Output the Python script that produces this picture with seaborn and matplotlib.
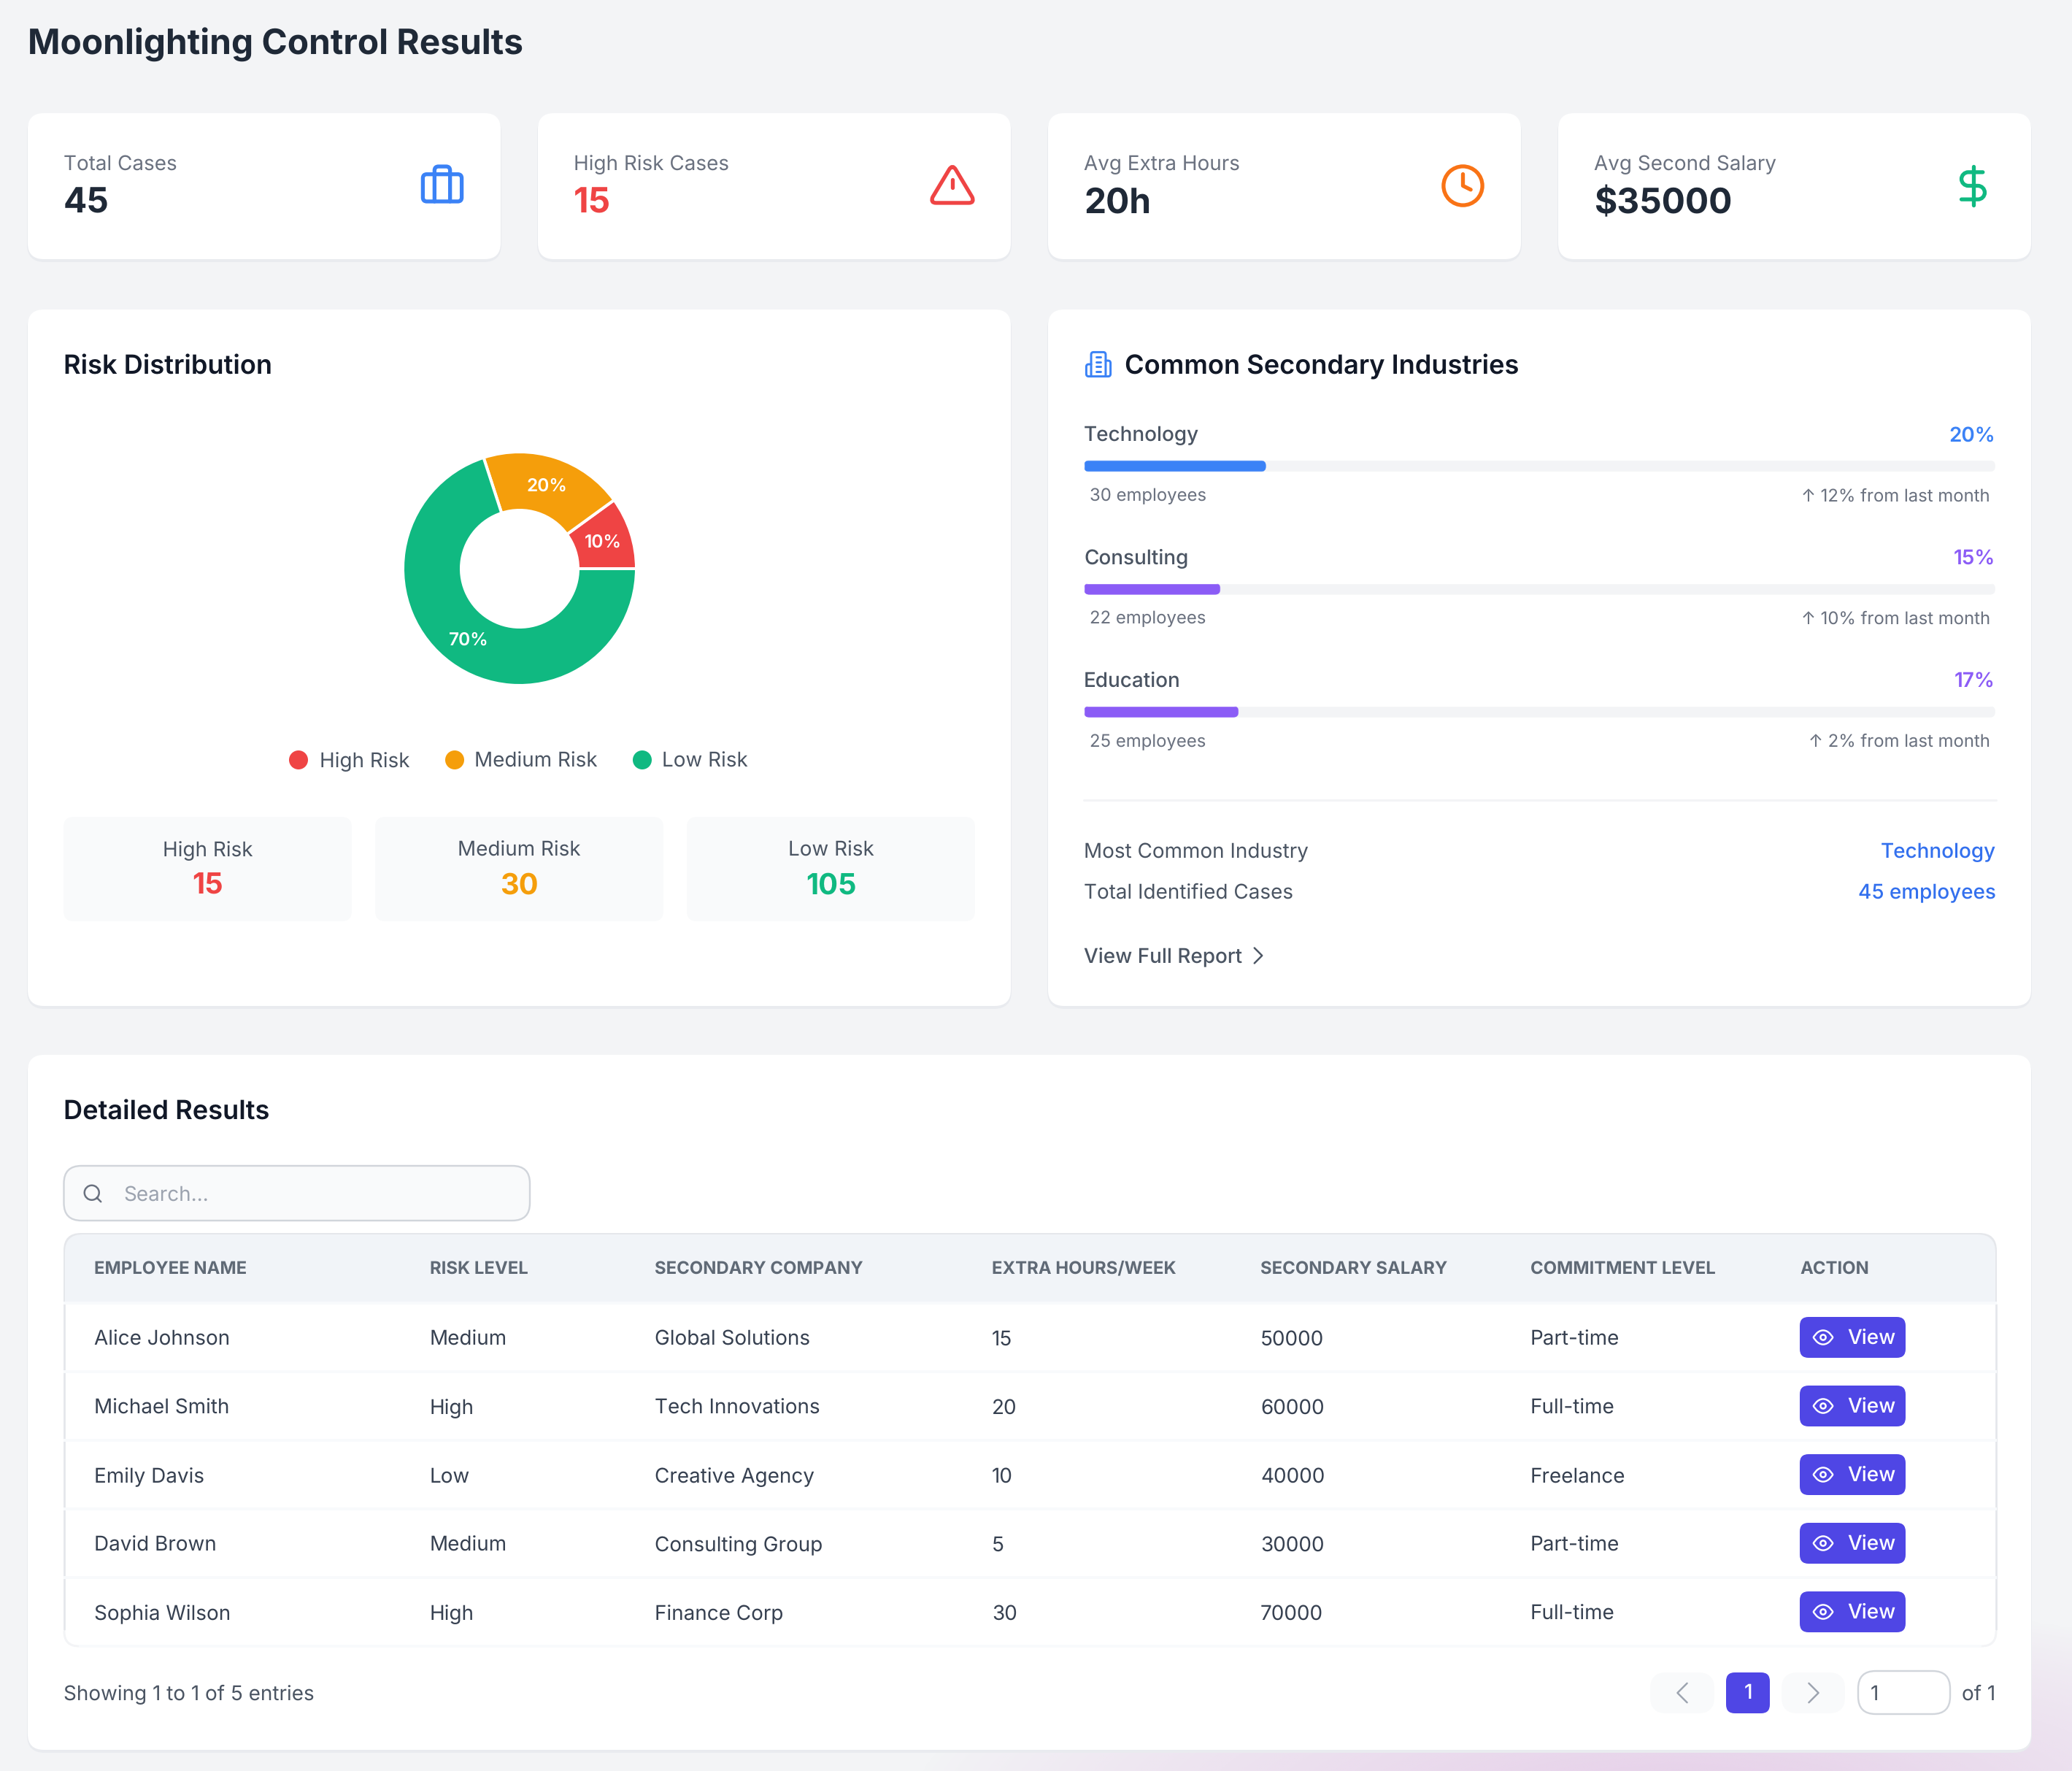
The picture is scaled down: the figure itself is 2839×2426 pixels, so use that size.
import re
import numpy as np
import matplotlib
matplotlib.use('Agg')
import matplotlib.pyplot as plt
from matplotlib.patches import FancyBboxPatch, Circle
from matplotlib.path import Path
from matplotlib.patches import PathPatch
from matplotlib.transforms import IdentityTransform
import seaborn as sns

W, H = 2839, 2426
CSS = 1.8106 * 0.72  # css px to pt at dpi 100
BODY, SMALL, HEAD, BIG = 15.4, 13.2, 20, 26.4

# stat cards
card_labels = ['Total Cases', 'High Risk Cases', 'Avg Extra Hours', 'Avg Second Salary']
card_values = ['45', '15', '20h', '$35000']

# risk donut
risk_labels = ['High Risk', 'Medium Risk', 'Low Risk']
risk_pct = [10, 20, 70]
risk_counts = [15, 30, 105]

# secondary industries
industries = ['Technology', 'Consulting', 'Education']
industry_pct = [20, 15, 17]
industry_staff = ['30 employees', '22 employees', '25 employees']
industry_change = ['↑ 12% from last month', '↑ 10% from last month', '↑ 2% from last month']
track_full = [100, 100, 100]

# table
columns = ['EMPLOYEE NAME', 'RISK LEVEL', 'SECONDARY COMPANY', 'EXTRA HOURS/WEEK',
           'SECONDARY SALARY', 'COMMITMENT LEVEL', 'ACTION']
employee_names = ['Alice Johnson', 'Michael Smith', 'Emily Davis', 'David Brown', 'Sophia Wilson']
risk_levels = ['Medium', 'High', 'Low', 'Medium', 'High']
companies = ['Global Solutions', 'Tech Innovations', 'Creative Agency', 'Consulting Group', 'Finance Corp']
extra_hours = [15, 20, 10, 5, 30]
salaries = [50000, 60000, 40000, 30000, 70000]
commitment = ['Part-time', 'Full-time', 'Freelance', 'Part-time', 'Full-time']

RED, AMBER, GREEN = '#ef4444', '#f59e0b', '#10b981'
BLUE, PURPLE, ORANGE, INDIGO = '#3b82f6', '#8b5cf6', '#f97316', '#4f46e5'
LINK = '#3370ee'
INK, G700, G600, G500, G400 = '#1f2937', '#374151', '#4b5563', '#6b7280', '#9ca3af'

sns.set_theme(style='white')
plt.rcParams['font.family'] = ['Inter', 'DejaVu Sans']
plt.rcParams['text.hinting'] = 'no_hinting'

fig = plt.figure(figsize=(W / 100, H / 100), dpi=100, facecolor='#f3f4f6')
ax = fig.add_axes([0, 0, 1, 1])
ax.set_xlim(0, W)
ax.set_ylim(H, 0)
ax.axis('off')


def txt(x, y, s, size, color=G700, weight='normal', ha='left', **kw):
    return ax.text(x, y + 3.5, s, fontsize=size * CSS, color=color, fontweight=weight,
                   ha=ha, va='center', zorder=6, **kw)


def box(x0, y0, x1, y1, r, fc, ec='none', lw=0, z=2):
    ax.add_patch(FancyBboxPatch((x0, y0), x1 - x0, y1 - y0,
                                boxstyle=f'round,pad=0,rounding_size={r}',
                                fc=fc, ec=ec, lw=lw * 0.72, zorder=z))


def card(x0, y0, x1, y1):
    box(x0 - 1, y0 + 2, x1 + 1, y1 + 4, 24, '#e9ebef', z=1)
    box(x0, y0, x1, y1, 22, 'white')


def svg(d, cx, cy, s, color, lw=2.0, fill='none', z=7):
    # absolute M L C Q Z commands, in a 24 unit icon box
    tokens = re.findall(r'[MLCQZ]|-?[\d.]+', d)
    verts, codes, i = [], [], 0
    start = (0, 0)
    sizes = {'M': (1, Path.MOVETO), 'L': (1, Path.LINETO), 'Q': (2, Path.CURVE3), 'C': (3, Path.CURVE4)}
    while i < len(tokens):
        c = tokens[i]
        i += 1
        if c == 'Z':
            verts.append(start)
            codes.append(Path.CLOSEPOLY)
            continue
        n, code = sizes[c]
        for _ in range(n):
            p = (float(tokens[i]), float(tokens[i + 1]))
            i += 2
            verts.append(p)
            codes.append(code)
        if c == 'M':
            start = verts[-1]
    pts = [(cx + (a - 12) * s, cy + (b - 12) * s) for a, b in verts]
    ax.add_patch(PathPatch(Path(pts, codes), fc=fill, ec=color, lw=lw * s * 0.72,
                           capstyle='round', joinstyle='round', zorder=z))


# pink glow in the bottom right corner of the page
gx, gy = np.meshgrid(np.linspace(1000, W, 300), np.linspace(2100, H, 80))
glow = np.clip(1 - np.hypot((gx - 2300) / 1050, (gy - 2470) / 280), 0, 1) ** 0.8
rgba = np.zeros(glow.shape + (4,))
rgba[..., :3] = matplotlib.colors.to_rgb('#e6cfe9')
rgba[..., 3] = glow
ax.imshow(np.clip(rgba, 0, 1), extent=(1000, W, H, 2100), zorder=0, aspect='auto', interpolation='bilinear')
ax.set_xlim(0, W)
ax.set_ylim(H, 0)

txt(38, 57, 'Moonlighting Control Results', BIG, INK, 'bold')

# stat cards
card_x = [(38, 686), (737, 1385), (1436, 2084), (2135, 2783)]
card_colors = [INK, RED, INK, INK]
for (x0, x1), label, value, col in zip(card_x, card_labels, card_values, card_colors):
    card(x0, 155, x1, 355)
    txt(x0 + 49, 222, label, BODY, G500)
    txt(x0 + 49, 276, value, BIG, col, 'bold')

S = 2.66
svg('M4 7L20 7Q22 7 22 9L22 19Q22 21 20 21L4 21Q2 21 2 19L2 9Q2 7 4 7Z', 606, 252, S, BLUE)
svg('M16 21L16 5Q16 3 14 3L10 3Q8 3 8 5L8 21', 606, 252, S, BLUE)
svg('M10.29 3.86L1.82 18Q0.6 21 3.53 21L20.47 21Q23.4 21 22.18 18L13.71 3.86Q12 1 10.29 3.86Z', 1305, 254, S, RED)
svg('M12 9L12 13M12 17L12.01 17', 1305, 254, S, RED)
ax.add_patch(Circle((2004.5, 254.5), 10 * S, fc='none', ec=ORANGE, lw=2 * S * 0.72, zorder=7))
svg('M12 6L12 12L16 14', 2004.5, 254.5, S, ORANGE)
svg('M12 2L12 22', 2703.5, 254.5, S, GREEN)
svg('M17 5L9.5 5C7.6 5 6 6.6 6 8.5C6 10.4 7.6 12 9.5 12L14.5 12C16.4 12 18 13.6 18 15.5C18 17.4 16.4 19 14.5 19L6 19',
    2703.5, 254.5, S, GREEN)

# panels
card(38, 424, 1385, 1378)
card(1436, 424, 2783, 1378)
card(38, 1445, 2783, 2397)
txt(87, 500, 'Risk Distribution', HEAD, '#111827', 'semibold')
txt(1541, 499, 'Common Secondary Industries', HEAD, '#111827', 'semibold')
txt(87, 1521, 'Detailed Results', HEAD, '#111827', 'semibold')

# building icon next to the industries title
for part in ['M6 22L6 4Q6 2 8 2L16 2Q18 2 18 4L18 22Z',
             'M6 12L4 12Q2 12 2 14L2 20Q2 22 4 22L6 22',
             'M18 9L20 9Q22 9 22 11L22 20Q22 22 20 22L18 22',
             'M10 6L14 6M10 10L14 10M10 14L14 14M10 18L14 18']:
    svg(part, 1505, 499, 1.66, BLUE, lw=1.8)

# donut, one axes placed on the page pixels
R = 160
pie_ax = fig.add_axes([(712 - R) / W, 1 - (779 + R) / H, 2 * R / W, 2 * R / H])
_, _, pct_texts = pie_ax.pie(risk_pct, colors=[RED, AMBER, GREEN], startangle=0, counterclock=True, radius=1,
                             autopct='%d%%', pctdistance=0.75,
                             wedgeprops={'width': 0.5, 'edgecolor': 'white', 'linewidth': 2.9},
                             textprops={'color': 'white', 'fontsize': 13.5 * CSS, 'fontweight': 'semibold'})
for t in pct_texts:
    px, py = t.get_position()
    t.set_position((px, py - 0.006))
pie_ax.set_xlim(-1, 1)
pie_ax.set_ylim(-1, 1)
pie_ax.set_aspect('equal')
pie_ax.patch.set_alpha(0)

# legend and summary boxes
for x_dot, x_txt, label, col in zip([409, 623, 880], [438, 650, 907], risk_labels, [RED, AMBER, GREEN]):
    ax.add_patch(Circle((x_dot, 1041), 13, fc=col, ec='none', zorder=5))
    txt(x_txt, 1040, label, BODY, G600)
for (x0, x1), label, n, col in zip([(87, 482), (514, 909), (941, 1336)], risk_labels, risk_counts, [RED, AMBER, GREEN]):
    box(x0, 1119, x1, 1262, 14, '#f9fafb')
    txt((x0 + x1) / 2, 1162, label, BODY, G600, ha='center')
    txt((x0 + x1) / 2, 1211, str(n), 22, col, 'bold', ha='center')

# progress bars, a seaborn bar chart on its own axes
TX0, TX1 = 1485, 2734
ROW0, ROW_H = 638.5, 168.2
bar_ax = fig.add_axes([TX0 / W, 1 - (ROW0 + 2.5 * ROW_H) / H, (TX1 - TX0) / W, 3 * ROW_H / H])
sns.barplot(x=track_full, y=industries, color='#f3f4f6', width=16 / ROW_H, orient='h',
            saturation=1, ax=bar_ax)
sns.barplot(x=industry_pct, y=industries, hue=industries, palette=[BLUE, PURPLE, PURPLE],
            width=16 / ROW_H, orient='h', saturation=1, legend=False, ax=bar_ax)
bar_ax.set_xlim(0, 100)
bar_ax.set_ylim(2.5, -0.5)
bar_ax.axis('off')
fig.canvas.draw()
for bar in bar_ax.patches:
    b = bar.get_window_extent()
    if b.width > 0:
        bar.set_clip_path(FancyBboxPatch((b.x0, b.y0), b.width, b.height,
                                         boxstyle=f'round,pad=0,rounding_size={b.height / 2}',
                                         transform=IdentityTransform()))

for i, (name, pct, staff, change) in enumerate(zip(industries, industry_pct, industry_staff, industry_change)):
    y = ROW0 + i * ROW_H
    txt(TX0, y - 45, name, BODY, G600, 'medium')
    txt(TX1, y - 45, f'{pct}%', BODY, BLUE if i == 0 else PURPLE, 'semibold', ha='right')
    txt(TX0 + 8, y + 38, staff, SMALL, G500)
    txt(TX1 - 7, y + 38, change, SMALL, G500, ha='right')

ax.plot([TX0, TX1 + 1], [1096, 1096], color='#f3f4f6', lw=2.2, zorder=5)
txt(TX0, 1164, 'Most Common Industry', BODY, G600)
txt(TX0, 1220, 'Total Identified Cases', BODY, G600)
txt(TX1 + 1, 1164, 'Technology', BODY, LINK, 'medium', ha='right')
txt(TX1 + 1, 1220, '45 employees', BODY, LINK, 'medium', ha='right')
txt(TX0, 1307, 'View Full Report', BODY, G600, 'medium')
svg('M9 18L15 12L9 6', 1724, 1309, 1.75, G600, lw=1.4)

# search box
box(87.5, 1597, 726, 1672, 24, '#f9fafb', '#d1d5db', 2.4, z=3)
svg('M11 3C15.4 3 19 6.6 19 11C19 15.4 15.4 19 11 19C6.6 19 3 15.4 3 11C3 6.6 6.6 3 11 3ZM21 21L16.65 16.65',
    127, 1635, 1.25, G500)
txt(169, 1634, 'Search...', BODY, G400)

# table
box(87, 1689, 2736, 1810, 24, '#e5e7eb', z=3)
box(89, 1691, 2734, 1810, 24, '#f1f4f8', z=3)
ax.fill_between([85, 2738], 1783, 1812, color='white', zorder=3, lw=0)
row_h = 94
for side in (88, 2735):
    ax.plot([side, side], [1787, 2232], color='#e5e7eb', lw=2, zorder=3)
for k in range(5):
    ax.fill_between([87, 2736], 1783 + k * row_h, 1787 + k * row_h, color='#f8fafc', zorder=4, lw=0)
ax.fill_between([108, 2715], 2253, 2257, color='#f8fafc', zorder=4, lw=0)
svg('M12 -8Q12 12 32 12', 88, 2255, 1.0, '#f3f4f6', lw=3, z=3)
svg('M12 -8Q12 12 -8 12', 2735, 2255, 1.0, '#f3f4f6', lw=3, z=3)

col_x = [129, 589, 897, 1359, 1727, 2097, 2466]
for x, c in zip(col_x, columns):
    txt(x, 1735, c, SMALL, '#606a76', 'bold')
for i in range(5):
    y = 1832 + i * row_h
    row = [employee_names[i], risk_levels[i], companies[i], extra_hours[i], salaries[i], commitment[i]]
    for x, v in zip(col_x, row):
        txt(x, y, str(v), BODY, G700)
    box(2466, y - 28, 2611, y + 28, 12, INDIGO, z=5)
    svg('M1 12C1 12 5 4 12 4C19 4 23 12 23 12C23 12 19 20 12 20C5 20 1 12 1 12Z', 2498, y, 1.2, 'white')
    ax.add_patch(Circle((2498, y), 3 * 1.2, fc='none', ec='white', lw=1.8, zorder=7))
    txt(2531, y - 2, 'View', BODY, 'white', 'medium')

# footer
txt(87, 2318, 'Showing 1 to 1 of 5 entries', BODY, G600)
box(2261, 2291, 2349, 2347, 22, '#f9fafb')
box(2441, 2291, 2528, 2347, 22, '#f9fafb')
box(2365, 2291, 2425, 2347, 12, INDIGO)
txt(2395, 2316, '1', BODY, 'white', 'medium', ha='center')
svg('M15 18L9 12L15 6', 2305, 2319, 2.2, G400, lw=1.1)
svg('M9 18L15 12L9 6', 2485, 2319, 2.2, G400, lw=1.1)
box(2546, 2289, 2672, 2348, 24, 'white', '#d1d5db', 2.4)
txt(2563, 2318, '1', BODY, G600)
txt(2734, 2318, 'of 1', BODY, G600, ha='right')

fig.savefig('out.png', dpi=100, facecolor=fig.get_facecolor())
